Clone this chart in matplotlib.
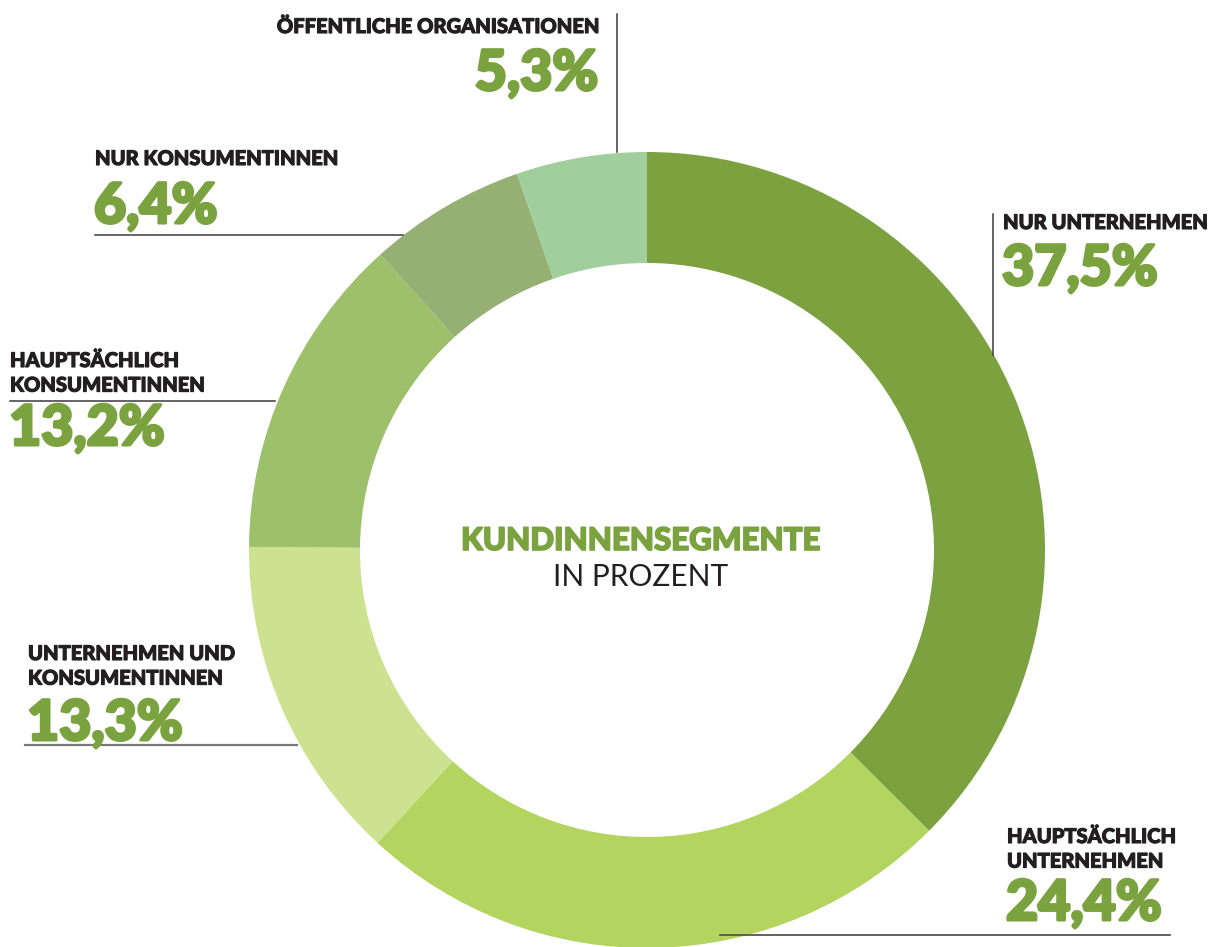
import matplotlib
matplotlib.use("Agg")
import matplotlib.pyplot as plt
import matplotlib.patheffects as pe

# Kundinnensegmente in Prozent
segments = [
    "NUR UNTERNEHMEN",
    "HAUPTSÄCHLICH\nUNTERNEHMEN",
    "UNTERNEHMEN UND\nKONSUMENTINNEN",
    "HAUPTSÄCHLICH\nKONSUMENTINNEN",
    "NUR KONSUMENTINNEN",
    "ÖFFENTLICHE ORGANISATIONEN",
]
shares = [37.5, 24.4, 13.3, 13.2, 6.4, 5.3]
value_labels = ["37,5%", "24,4%", "13,3%", "13,2%", "6,4%", "5,3%"]
colors = ["#7ba23f", "#b3d55f", "#cde290", "#9dc16b", "#95b072", "#a0ce9c"]

W, H = 1209, 947
GREEN = "#7aa23e"
DARK = "#231f20"
FONT = ["Lato", "DejaVu Sans"]

fig = plt.figure(figsize=(W / 100, H / 100), dpi=100)
ax = fig.add_axes([0, 0, 1, 1])

cx, cy, r_out = 647, H - 550, 398
ax.pie(shares, colors=colors, startangle=90, counterclock=False,
       center=(cx, cy), radius=r_out,
       wedgeprops=dict(width=r_out - 287, linewidth=0))
ax.set_xlim(0, W)
ax.set_ylim(0, H)
ax.set_aspect("equal")
ax.axis("off")


def y(v):
    return H - v


def heavy(color, w):
    return [pe.Stroke(linewidth=w, foreground=color), pe.Normal()]


# label blocks: (name x, name top, ha, value top)
blocks = [
    (1003, 213, "left", 244),
    (1007, 827, "left", 879),
    (28, 644, "left", 699),
    (10, 351, "left", 404),
    (95, 149, "left", 182),
    (598, 17, "right", 49),
]
for name, val, (bx, top, ha, vtop) in zip(segments, value_labels, blocks):
    ax.text(bx, y(top), name, ha=ha, va="top", fontsize=14.5, color=DARK,
            family=FONT, fontweight="black", linespacing=1.35,
            path_effects=heavy(DARK, 0.8))
    ax.text(bx - 1 if ha == "left" else bx, y(vtop), val, ha=ha, va="top",
            fontsize=40, color=GREEN, family=FONT, fontweight="black",
            path_effects=heavy(GREEN, 2.2))

# leader lines
lc = dict(color="#3a3a3a", linewidth=1.1)
ax.plot([617, 617], [y(14), y(152)], **lc)
ax.plot([95, 403], [y(235), y(235)], **lc)
ax.plot([993, 993], [y(214), y(355)], **lc)
ax.plot([10, 275], [y(401), y(401)], **lc)
ax.plot([25, 297], [y(745), y(745)], color="#777777", linewidth=1.6)
ax.plot([720, 1170], [y(935), y(935)], color="#555555", linewidth=1.3)

# centre caption
ax.text(641, y(541), "KUNDINNENSEGMENTE", ha="center", va="center",
        fontsize=22.5, color=GREEN, family=FONT, fontweight="black",
        path_effects=heavy(GREEN, 1.2))
ax.text(641, y(577), "IN PROZENT", ha="center", va="center",
        fontsize=21.5, color=DARK, family=FONT, fontweight="normal")

fig.savefig("out.png", dpi=100)
